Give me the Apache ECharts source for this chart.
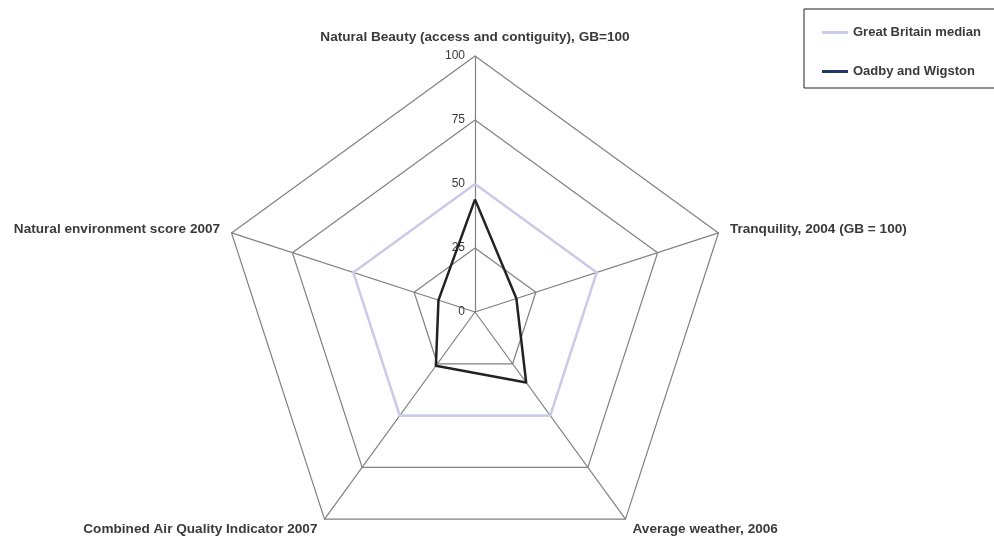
<!DOCTYPE html>
<html><head><meta charset="utf-8">
<script src="https://cdn.jsdelivr.net/npm/echarts@6/dist/echarts.min.js"></script>
<style>html,body{margin:0;padding:0;background:#fff}#c{width:994px;height:538px}</style>
</head><body><div id="c"></div>
<script>
// clockwise order from the top, as in the reference
const indicators = ["Natural Beauty (access and contiguity), GB=100", "Tranquility, 2004 (GB = 100)", "Average weather, 2006", "Combined Air Quality Indicator 2007", "Natural environment score 2007"];
const gbMedian = [50, 50, 50, 50, 50];
const oadby = [44, 17, 34, 26, 15];
const seriesNames = ["Great Britain median", "Oadby and Wigston"];
const axisMax = 100;

// ECharts radar runs counter-clockwise; reorder so the drawing goes clockwise
const order = [0, 4, 3, 2, 1];
const pick = arr => order.map(i => arr[i]);

const chart = echarts.init(document.getElementById('c'));
chart.setOption({
  animation: false,
  textStyle: {fontFamily: 'Liberation Sans, Arial, sans-serif'},
  legend: {
    left: 804, top: 9, orient: 'vertical',
    padding: [17, 60, 10, 18], itemGap: 26,
    borderColor: '#222', borderWidth: 1,
    icon: 'rect', itemWidth: 26, itemHeight: 3,
    textStyle: {fontSize: 13, fontWeight: 'bold', color: '#3a3a3a'},
    data: seriesNames
  },
  radar: {
    center: [475, 312], radius: 256, startAngle: 90, shape: 'polygon',
    splitNumber: 4, nameGap: 12,
    axisName: {color: '#3a3a3a', fontSize: 13.6, fontWeight: 'bold'},
    indicator: pick(indicators).map((n, i) => i === 0 ? {name: n, min: 0, max: axisMax, axisLabel: {show: true}} : {name: n, min: 0, max: axisMax}),
    axisLabel: {show: false, color: '#3a3a3a', fontSize: 12, margin: 10},
    axisLine: {lineStyle: {color: '#808080', width: 1.2}},
    splitLine: {lineStyle: {color: '#808080', width: 1.2}},
    splitArea: {show: false}
  },
  series: [{
    type: 'radar', symbol: 'none',
    data: [
      {name: seriesNames[0], value: pick(gbMedian), itemStyle: {color: '#c9cbe8'}, lineStyle: {color: '#c9cbe8', width: 2.5}},
      {name: seriesNames[1], value: pick(oadby), itemStyle: {color: '#1f3864'}, lineStyle: {color: '#222', width: 2.5}}
    ]
  }]
});
</script></body></html>
